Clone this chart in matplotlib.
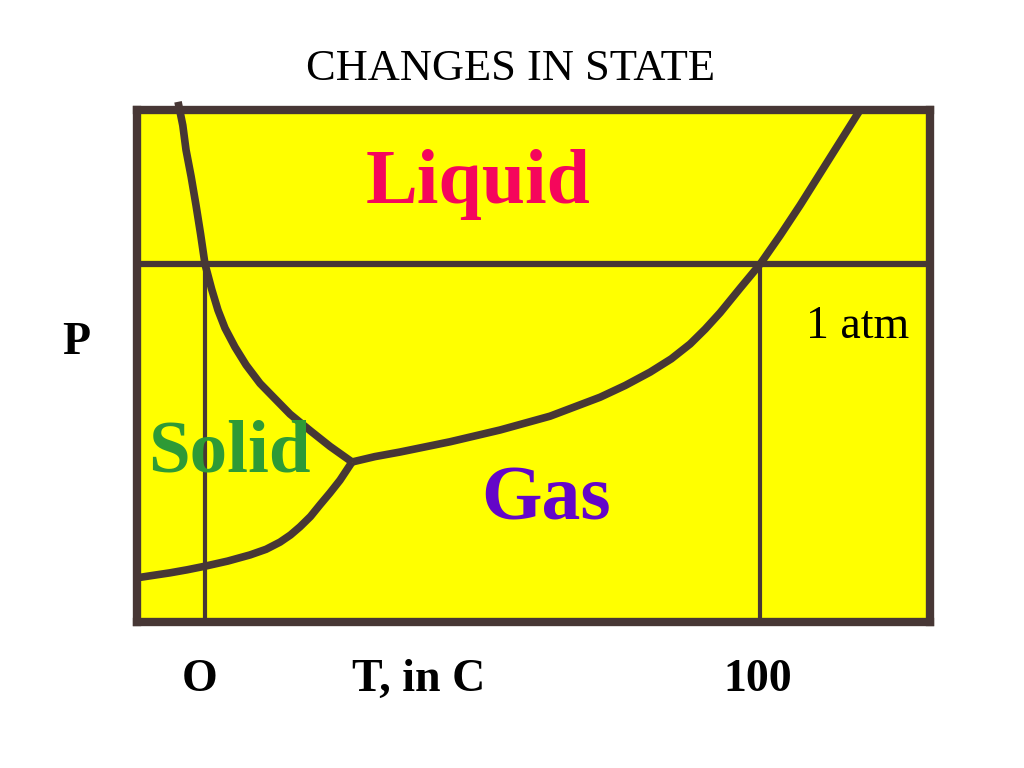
import matplotlib
matplotlib.use("Agg")
import matplotlib.pyplot as plt

# ---- data (T in C, P in arbitrary units; 1 atm = 7) ----
melt_T = [-4.86, -4.0, -3.42, -2.5, -1.62, -0.8, 0.0, 1.2, 2.34, 3.6, 5.4, 7.4, 9.91, 12.61, 15.32, 18.92, 22.52, 26.49]
melt_P = [10.16, 9.7, 9.22, 8.7, 8.14, 7.58, 6.99, 6.5, 6.09, 5.74, 5.37, 5.02, 4.66, 4.36, 4.06, 3.74, 3.43, 3.125]

subl_T = [-12.43, -9.4, -6.31, -3.2, 0.0, 4.1, 8.11, 11.0, 13.51, 15.4, 17.12, 19.0, 20.72, 22.5, 24.32, 26.49]
subl_P = [0.86, 0.91, 0.96, 1.02, 1.09, 1.19, 1.31, 1.42, 1.56, 1.70, 1.86, 2.06, 2.29, 2.52, 2.77, 3.125]

vap_T = [26.49, 30.6, 35.14, 44.14, 53.15, 62.16, 71.17, 75.7, 80.18, 84.0, 87.39, 90.1, 92.79, 96.4, 100.0, 103.6, 107.2, 112.6, 118.0]
vap_P = [3.125, 3.23, 3.32, 3.52, 3.75, 4.02, 4.39, 4.62, 4.88, 5.14, 5.43, 5.72, 6.04, 6.52, 6.99, 7.55, 8.14, 9.07, 10.0]

P_atm = 6.99
T_freeze = 0.0
T_boil = 100.0
T_lim = (-12.25, 130.6)
P_lim = (0.0, 10.0)

title = "CHANGES IN STATE"
x_labels = ["O", "T, in C", "100"]
phase_labels = ["Liquid", "Solid", "Gas"]

brown = "#473735"
serif = ["Liberation Serif", "DejaVu Serif"]

fig = plt.figure(figsize=(10.24, 7.68), dpi=100)
fig.patch.set_facecolor("white")
W, H = 1024, 768
ax = fig.add_axes([137 / W, 1 - 622 / H, (930 - 137) / W, (622 - 110) / H])
ax.set_facecolor("#FFFF00")
ax.set_xlim(*T_lim)
ax.set_ylim(*P_lim)
ax.set_xticks([])
ax.set_yticks([])
for s in ax.spines.values():
    s.set_color(brown)
    s.set_linewidth(6)

# reference lines
ax.axhline(P_atm, color=brown, lw=4.5, zorder=2)
ax.plot([T_freeze, T_freeze], [P_lim[0], P_atm], color=brown, lw=3, zorder=2)
ax.plot([T_boil, T_boil], [P_lim[0], P_atm], color=brown, lw=3, zorder=2)

# phase boundaries
kw = dict(color=brown, lw=5.5, solid_joinstyle="round", solid_capstyle="butt", zorder=3)
ax.plot(melt_T, melt_P, clip_on=False, **kw)
ax.plot(subl_T, subl_P, clip_on=True, **kw)
ax.plot(vap_T, vap_P, clip_on=False, **kw)

def ftext(px, py, s, **k):
    fig.text(px / W, 1 - py / H, s, ha="center", va="baseline", family=serif, **k)

ftext(511, 80, title, fontsize=32, color="black")
ftext(478, 203, phase_labels[0], fontsize=56, weight="bold", color="#F5065C")
ftext(229, 471, phase_labels[1], fontsize=54, weight="bold", color="#2E9A36")
ftext(546, 520, phase_labels[2], fontsize=56, weight="bold", color="#6406C8")
ftext(858, 338, "1 atm", fontsize=33, color="black")
ftext(76, 354, "P", fontsize=33, weight="bold", color="black")
ftext(200, 691, x_labels[0], fontsize=33, weight="bold", color="black")
ftext(419, 691, x_labels[1], fontsize=33, weight="bold", color="black")
ftext(758, 691, x_labels[2], fontsize=33, weight="bold", color="black")

fig.savefig("out.png", dpi=100, facecolor="white")
